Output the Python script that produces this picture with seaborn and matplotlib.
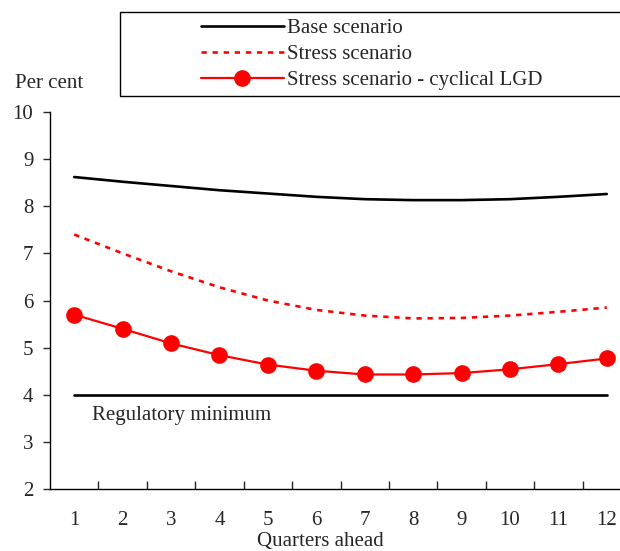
"""
Capital ratio scenarios, quarters ahead
"""

import numpy as np
import matplotlib
matplotlib.use("Agg")
import matplotlib.pyplot as plt
from matplotlib.patches import Rectangle
import seaborn as sns

quarters = [1, 2, 3, 4, 5, 6, 7, 8, 9, 10, 11, 12]
base = [8.62, 8.52, 8.43, 8.34, 8.27, 8.20, 8.15, 8.13, 8.13, 8.15, 8.20, 8.26]
stress = [7.40, 7.00, 6.62, 6.28, 6.00, 5.80, 5.68, 5.62, 5.63, 5.68, 5.76, 5.85]
stress_lgd = [5.70, 5.40, 5.09, 4.84, 4.64, 4.51, 4.43, 4.43, 4.46, 4.54, 4.65, 4.77]
reg_min = [4.0] * 12

FS = 15

sns.set_style("ticks")
plt.rcParams['font.family'] = ['Liberation Serif', 'DejaVu Serif']

fig = plt.figure(figsize=(6.2, 5.51), dpi=100)
ax = fig.add_axes([50 / 620, 62 / 551, 581 / 620, 377 / 551])

sns.lineplot(x=quarters, y=base, color='black', linewidth=1.9, ax=ax,
             label='Base scenario')
sns.lineplot(x=quarters, y=stress, color='red', linewidth=1.9, ax=ax,
             linestyle=(0, (2, 2.2)), label='Stress scenario')
sns.lineplot(x=quarters, y=stress_lgd, color='red', linewidth=1.6, ax=ax,
             marker='o', markersize=12, markeredgewidth=0,
             label='Stress scenario - cyclical LGD')
sns.lineplot(x=quarters, y=reg_min, color='black', linewidth=1.9, ax=ax,
             legend=False)

ax.text(1.37, 3.55, 'Regulatory minimum', fontsize=FS, va='center', ha='left')

ax.set_xlim(0.5, 12.5)
ax.set_ylim(2, 10)
ax.set_yticks(range(2, 11))
ax.set_xticks(quarters)
ax.set_xticks(np.arange(1.5, 12, 1), minor=True)
ax.tick_params(axis='y', direction='out', length=5, width=1, labelsize=FS, pad=7)
ax.tick_params(axis='x', which='major', length=0, labelsize=FS, pad=16)
ax.tick_params(axis='x', which='minor', direction='in', length=6, width=1)
ax.set_xlabel('')
ax.set_ylabel('')
for side in ['top', 'right']:
    ax.spines[side].set_visible(False)
for side in ['left', 'bottom']:
    ax.spines[side].set_color('black')
    ax.spines[side].set_linewidth(1)

fig.text(15 / 620, 1 - 83 / 551, 'Per cent', fontsize=FS, va='center', ha='left')
fig.text(320 / 620, 0, 'Quarters ahead', fontsize=FS,
         va='bottom', ha='center')

# legend frame runs off the right edge like the original
fig.patches.append(Rectangle((120 / 620, 1 - 96 / 551), 0.9, 84 / 551,
                             transform=fig.transFigure, fill=False,
                             edgecolor='black', linewidth=1))
ax.legend(loc='upper left', bbox_to_anchor=(186 / 620, 1 - 4 / 551),
          bbox_transform=fig.transFigure, frameon=False, fontsize=FS,
          handlelength=4.0, handletextpad=0.15, labelspacing=0.3,
          borderpad=0.2)

plt.savefig('out.png', dpi=100)
